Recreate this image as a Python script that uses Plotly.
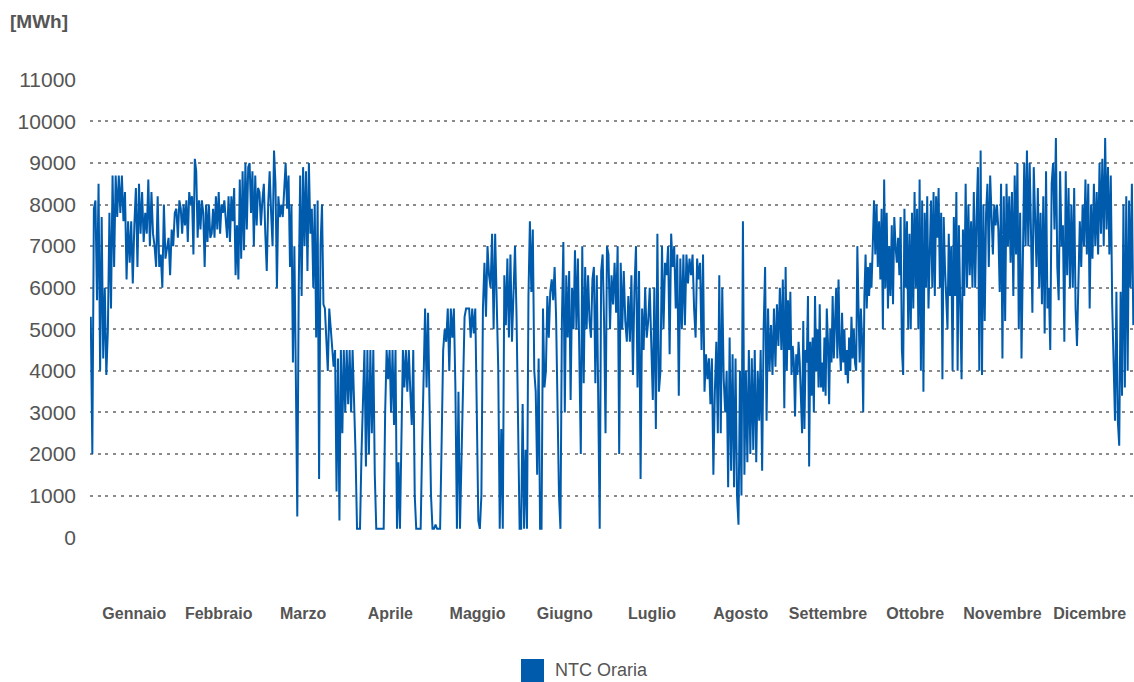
import plotly.graph_objects as go

months = ["Gennaio", "Febbraio", "Marzo", "Aprile", "Maggio", "Giugno",
          "Luglio", "Agosto", "Settembre", "Ottobre", "Novembre", "Dicembre"]
month_days = [31, 28, 31, 30, 31, 30, 31, 31, 30, 31, 30, 31]
y_ticks = [0, 1000, 2000, 3000, 4000, 5000, 6000, 7000, 8000, 9000, 10000, 11000]
y_tick_labels = [str(v) for v in y_ticks]

gen = [5300, 2000, 7900, 8100, 5700, 8500, 4000, 7700, 4300, 6000, 3900, 5000, 7800, 5500,
       8700, 6500, 8700, 7700, 8700, 7800, 8700, 7600, 8300, 6200, 7600, 6600, 7600, 6100,
       7500, 8400, 6500, 8500, 7300, 8300, 7100, 7800, 7300, 8600, 7000, 8300, 7300, 7000,
       6500, 8200, 6500, 6800, 6000, 8000, 6700, 7000, 7200, 6300, 7400, 7000, 7800, 7900, 7200]
feb = [8100, 7900, 7300, 8000, 7500, 8100, 7100, 8300, 8000, 8200, 6800, 9100, 8800, 7200,
       8100, 7400, 8100, 7800, 6500, 8000, 7100, 8000, 7200, 7300, 7900, 7200, 8200, 7400,
       8300, 7300, 8000, 7800, 8100, 7600, 7200, 8200, 7100, 8200, 7600, 8400, 6300, 7500,
       6200, 8600, 6700, 8800, 6900, 9000, 7400, 8900, 9000, 7800, 8800, 7000, 8700, 7500, 8400]
mar = [8300, 7500, 8100, 8500, 7300, 6400, 8000, 8800, 7800, 7000, 9300, 8500, 6000, 8200,
       7700, 8000, 7700, 8300, 9000, 7900, 8700, 6500, 8000, 4200, 7000, 3900, 500, 6000,
       8700, 5800, 8900, 7000, 8800, 6400, 9000, 7300, 7900, 6000, 8000, 4800, 8100, 1400,
       7000, 8000, 5600, 5500, 4800, 4000, 5500, 5000, 4700, 4100, 4500, 1100, 4300, 400,
       4500, 2500, 4500, 3000, 4500]
apr = [3200, 4500, 3000, 4500, 3500, 2000, 200, 200, 200, 2000, 3500, 4500, 1700, 4500,
       2000, 4500, 2500, 4500, 1500, 200, 200, 200, 200, 200, 200, 3000, 4500, 3800, 4500,
       3000, 4500, 2700, 4500, 200, 1800, 200, 2500, 4500, 3600, 4500, 3500, 4500, 3500,
       2700, 4500, 1000, 200, 200, 200, 200, 2200, 4300, 5500, 3600, 5400, 3200, 1000, 200]
mag = [200, 300, 200, 200, 200, 2300, 4500, 5000, 4700, 5500, 4000, 5500, 4800, 5500,
       3600, 200, 3500, 200, 1900, 4000, 5300, 5500, 5500, 5500, 4800, 5500, 4900, 5500,
       3000, 400, 200, 1000, 5500, 6600, 5300, 7000, 6300, 6000, 7300, 5000, 7300, 6000,
       4100, 200, 2600, 200, 6300, 5100, 6700, 4800, 6800, 4700, 6200, 7000, 5300, 2500, 200, 200]
giu = [3200, 200, 2100, 200, 5800, 7600, 5900, 7400, 4000, 3500, 1500, 4300, 200, 200,
       5500, 3600, 4000, 5800, 4800, 5900, 6200, 5700, 6500, 5300, 3000, 1000, 200, 5200,
       7100, 3000, 6300, 4800, 6400, 3300, 6000, 5000, 6900, 5000, 6700, 3800, 2000, 7000,
       3700, 6500, 5000, 6300, 5200, 4800, 6200, 6500, 3700, 6300, 3200, 200, 6400, 6800,
       5200, 2500, 7000]
lug = [6800, 5000, 6300, 5600, 6600, 5400, 7000, 2000, 6600, 5000, 6400, 5200, 4700, 5800,
       4700, 6300, 3900, 6000, 7000, 3600, 6400, 1400, 5500, 4500, 6000, 4800, 5200, 6000,
       4500, 3300, 6000, 2600, 7300, 3500, 4000, 7000, 5000, 6600, 6300, 7000, 4400, 7300,
       6500, 7000, 5500, 6800, 3400, 6700, 5000, 6800, 5100, 6800, 6100, 6700, 6300, 6800,
       5500, 4800]
ago = [6700, 6200, 6600, 4500, 6800, 3500, 4400, 3800, 4300, 3200, 4300, 1500, 3500, 4700,
       2500, 6300, 2500, 6000, 3800, 3000, 4000, 1200, 4800, 1600, 4400, 1200, 4300, 1000,
       300, 4000, 1000, 7600, 1500, 4000, 1800, 4500, 2000, 4300, 2100, 4500, 1800, 4000,
       2800, 4500, 1600, 5000, 6500, 2800, 5500, 4000, 5100, 3900, 5500, 4100, 5600, 4600,
       6000, 4500, 6200, 3100]
set_ = [6500, 4000, 5700, 4500, 5900, 3900, 4600, 4200, 2900, 4400, 3900, 4700, 4200, 3500,
        2500, 5200, 2600, 4500, 4200, 5800, 1700, 4700, 3400, 4800, 3000, 5800, 4000, 5000,
        3600, 5600, 3600, 4200, 3500, 4800, 3400, 5500, 4700, 3200, 5000, 4200, 5800, 4300,
        5000, 6000, 4300, 6200, 4600, 4000, 5400, 4200, 5000, 3900, 4500, 3700, 4800, 4000,
        5300, 4300, 5000, 4200, 4000, 7000, 5500, 4200, 5500, 4800, 3000, 5800, 6800, 5500,
        6500, 5800, 6600]
ott = [6000, 7000, 8100, 6800, 8000, 6500, 7600, 6200, 7900, 5000, 8600, 6000, 7800, 5500,
       7000, 5800, 7500, 5600, 7700, 7000, 6600, 7200, 6300, 7700, 4500, 3900, 7900, 6000,
       7600, 5000, 7300, 5000, 7800, 5500, 8300, 6000, 7900, 5000, 8600, 4000, 8100, 3500,
       7800, 6000, 8200, 5500, 7000, 8100, 6000, 8300, 5800, 8200, 7200, 8400, 6000, 7800,
       3800, 7700, 6500, 5500, 5000, 7300, 5800, 7000, 4000, 7700, 5800, 8300, 4000, 7500]
nov = [5200, 3800, 7400, 5800, 8500, 6000, 8000, 6300, 7600, 6000, 8300, 6000, 7700, 8900,
       4000, 9300, 3900, 8000, 5200, 7800, 8500, 6500, 8700, 7800, 6800, 8000, 7500, 8000,
       7400, 5900, 8500, 4300, 8200, 5200, 8500, 7000, 8200, 6600, 8300, 5800, 8700, 6800,
       9000, 5000, 7800, 4300, 6500, 9000, 7000, 9300, 7000, 9000, 7300, 5400, 8900, 7400,
       6500, 8400, 6000, 7800, 5600, 8200, 4900]
dic = [8800, 5500, 6000, 4500, 8500, 9000, 7400, 9600, 6500, 5700, 8800, 7000, 7500, 4700,
       8800, 6300, 8400, 6000, 8000, 6000, 8400, 5500, 4600, 6000, 7600, 6500, 8000, 7000,
       8600, 6800, 8500, 5500, 8000, 6700, 8500, 7000, 8300, 6800, 9000, 7300, 9100, 7000,
       9600, 7400, 8900, 6800, 8700, 5600, 3900, 2800, 5900, 2800, 2200, 5900, 3400, 8000,
       3600, 8200, 4000, 8100, 6000, 8500, 5100]

series = [gen, feb, mar, apr, mag, giu, lug, ago, set_, ott, nov, dic]

# spread each month's readings evenly across that month (x in days of year)
xs, ys = [], []
start = 0
for vals, nd in zip(series, month_days):
    n = len(vals)
    for i, v in enumerate(vals):
        xs.append(start + (i + 0.5) * nd / n)
        ys.append(v)
    start += nd

centers = []
s = 0
for nd in month_days:
    centers.append(s + nd / 2)
    s += nd

BLUE = "#005bac"
GREY = "#555555"

fig = go.Figure()
fig.add_trace(go.Scatter(x=xs, y=ys, mode="lines", line=dict(color=BLUE, width=2),
                         name="NTC Oraria", showlegend=False))

fig.update_layout(
    width=1134, height=682,
    margin=dict(l=90, r=0, t=79, b=144),
    paper_bgcolor="white", plot_bgcolor="white",
    font=dict(family="Liberation Sans, Arial, sans-serif", color=GREY),
    showlegend=False,
    xaxis=dict(range=[0, 365], tickvals=centers, ticktext=months, showgrid=False,
               zeroline=False, showline=False, ticks="",
               tickfont=dict(size=16, color=GREY, weight="bold"),
               ticklabelstandoff=64),
    yaxis=dict(range=[-20, 11020], tickvals=y_ticks, ticktext=y_tick_labels,
               showgrid=True, gridcolor="#8a8a8a",
               griddash="3px,4.7px", gridwidth=1.5, zeroline=False, showline=False, ticks="",
               tickfont=dict(size=21, color=GREY), ticklabelstandoff=13),
)

fig.add_annotation(text="<b>[MWh]</b>", xref="paper", yref="paper",
                   x=(8 - 90) / 1044, y=(538 - 21) / 459, xanchor="left", yanchor="middle",
                   showarrow=False, font=dict(size=19, color=GREY))

fig.add_shape(type="rect", xref="paper", yref="paper",
              x0=(521 - 90) / 1044, x1=(544 - 90) / 1044,
              y0=(538 - 659) / 459, y1=(538 - 682) / 459,
              fillcolor=BLUE, line=dict(width=0))
fig.add_annotation(text="NTC Oraria", xref="paper", yref="paper",
                   x=(553 - 90) / 1044, y=(538 - 670) / 459, xanchor="left", yanchor="middle",
                   showarrow=False, font=dict(size=18, color=GREY))

fig.write_html("out.html", config={"displayModeBar": False},
               post_script="document.body.style.margin='0';document.body.style.overflow='hidden';")
